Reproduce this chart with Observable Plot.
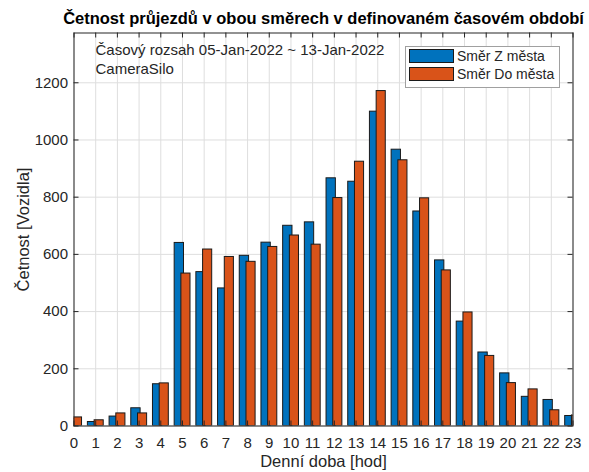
<!DOCTYPE html>
<html>
<head>
<meta charset="utf-8">
<script src="https://cdn.jsdelivr.net/npm/d3@7"></script>
<script src="https://cdn.jsdelivr.net/npm/@observablehq/plot@0.6"></script>
<style>
  body { margin: 0; background: #fff; }
  #wrap { position: relative; width: 589px; height: 472px; font-family: "Liberation Sans", Arial, Helvetica, sans-serif; color: #262626; }
  #legend { position: absolute; left: 405px; top: 46px; width: 153px; height: 40px; border: 1px solid #a0a0a0; background: #fff; box-sizing: content-box; }
  .row { position: absolute; left: 3px; height: 14px; display: flex; align-items: center; font-size: 14px; white-space: nowrap; }
  .sw { width: 45px; height: 14px; box-sizing: border-box; border: 1px solid #1a1a1a; margin-right: 3px; }
</style>
</head>
<body>
<div id="wrap"></div>
<script>
const title = "Četnost průjezdů v obou směrech v definovaném časovém období";
const infoLines = ["Časový rozsah 05-Jan-2022 ~ 13-Jan-2022", "CameraSilo"];
const xLabel = "Denní doba [hod]";
const yLabel = "Četnost [Vozidla]";
const seriesNames = ["Směr Z města", "Směr Do města"];
const seriesColors = ["#0072BD", "#D95319"];

const hours = [0,1,2,3,4,5,6,7,8,9,10,11,12,13,14,15,16,17,18,19,20,21,22,23];
const zMesta  = [24, 14, 33, 62, 146, 640, 538, 481, 595, 641, 700, 712, 866, 854, 1099, 966, 750, 579, 365, 257, 184, 102, 91, 35];
const doMesta = [30, 20, 44, 44, 149, 533, 617, 591, 574, 626, 666, 634, 797, 924, 1171, 929, 796, 544, 397, 245, 150, 128, 55, 37];
const xTicks = hours;
const yTicks = [0, 200, 400, 600, 800, 1000, 1200];

const data = hours.map((h, i) => ({hour: h, z: zMesta[i], d: doMesta[i]}));

const W = 589, H = 472;
const mL = 73.5, mR = 16.5, mT = 32.5, mB = 46.5;
const frameW = W - mL - mR, frameH = H - mT - mB;
const axisColor = "#262626";
const gridColor = "#dedede";
const edge = "#1a1a1a";

const chart = Plot.plot({
  width: W,
  height: H,
  marginLeft: mL,
  marginRight: mR,
  marginTop: mT,
  marginBottom: mB,
  style: {fontFamily: '"Liberation Sans", Arial, Helvetica, sans-serif', fontSize: "15px", color: axisColor, background: "#fff"},
  x: {type: "linear", domain: [0, 23]},
  y: {type: "linear", domain: [0, 1374]},
  marks: [
    Plot.gridX(xTicks, {stroke: gridColor, strokeOpacity: 1}),
    Plot.gridY(yTicks, {stroke: gridColor, strokeOpacity: 1}),
    Plot.rect(data, {x1: d => d.hour - 0.36, x2: d => d.hour + 0.07, y1: 0, y2: d => d.z, fill: seriesColors[0], stroke: edge, strokeWidth: 1, clip: true}),
    Plot.rect(data, {x1: d => d.hour - 0.05, x2: d => d.hour + 0.37, y1: 0, y2: d => d.d, fill: seriesColors[1], stroke: edge, strokeWidth: 1, clip: true}),
    Plot.tickX(xTicks, {x: d => d, insetTop: frameH - 5, stroke: axisColor}),
    Plot.tickX(xTicks, {x: d => d, insetBottom: frameH - 5, stroke: axisColor}),
    Plot.tickY(yTicks, {y: d => d, insetRight: frameW - 5, stroke: axisColor}),
    Plot.tickY(yTicks, {y: d => d, insetLeft: frameW - 5, stroke: axisColor}),
    Plot.frame({stroke: axisColor}),
    Plot.axisX(xTicks, {tickSize: 0, tickPadding: 11, label: null, fill: axisColor, tickFormat: d => String(d)}),
    Plot.axisY(yTicks, {tickSize: 0, tickPadding: 6, label: null, fill: axisColor, tickFormat: d => String(d)}),
    Plot.text([title], {text: d => d, frameAnchor: "top", dy: -9.5, lineAnchor: "bottom", textAnchor: "middle", fontWeight: "bold", fontSize: 16.5, fill: "#000"}),
    Plot.text([infoLines[0]], {text: d => d, frameAnchor: "top-left", dx: 21.5, dy: 21.8, lineAnchor: "bottom", textAnchor: "start", fontSize: 15, fill: axisColor}),
    Plot.text([infoLines[1]], {text: d => d, frameAnchor: "top-left", dx: 21.5, dy: 40.8, lineAnchor: "bottom", textAnchor: "start", fontSize: 15, fill: axisColor}),
    Plot.text([xLabel], {text: d => d, frameAnchor: "bottom", dy: 40.5, lineAnchor: "bottom", textAnchor: "middle", fontSize: 16.5, fill: axisColor}),
    Plot.text([yLabel], {text: d => d, frameAnchor: "left", dx: -45.5, rotate: -90, lineAnchor: "bottom", textAnchor: "middle", fontSize: 16.5, fill: axisColor})
  ]
});

const wrap = document.getElementById("wrap");
wrap.appendChild(chart);

const legend = document.createElement("div");
legend.id = "legend";
seriesNames.forEach((name, i) => {
  const row = document.createElement("div");
  row.className = "row";
  row.style.top = (i === 0 ? 2 : 20) + "px";
  const sw = document.createElement("div");
  sw.className = "sw";
  sw.style.background = seriesColors[i];
  const t = document.createElement("span");
  t.textContent = name;
  row.appendChild(sw);
  row.appendChild(t);
  legend.appendChild(row);
});
wrap.appendChild(legend);
</script>
</body>
</html>
